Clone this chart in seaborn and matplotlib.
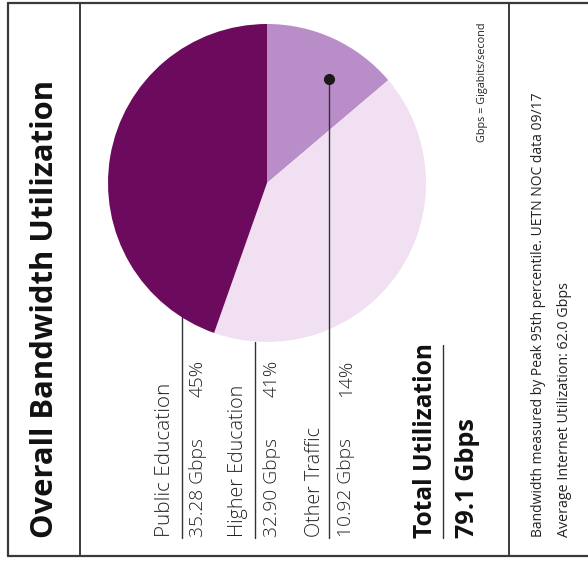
import matplotlib
matplotlib.use("Agg")
import matplotlib.pyplot as plt
import seaborn as sns

# data
categories = ["Public Education", "Higher Education", "Other Traffic"]
gbps = [35.28, 32.90, 10.92]
percent = [45, 41, 14]
total_gbps = 79.1
average_gbps = 62.0

title = "Overall Bandwidth Utilization"
unit_note = "Gbps = Gigabits/second"
source_note = "Bandwidth measured by Peak 95th percentile. UETN NOC data 09/17"

sns.set_theme(style="white")
plt.rcParams["font.family"] = ["Open Sans", "DejaVu Sans"]

# public, higher, other
colors = sns.color_palette(["#6c0b5d", "#f1e0f2", "#b98dc7"])

W, H = 588, 564
fig = plt.figure(figsize=(W / 100, H / 100), dpi=100)
fig.patch.set_facecolor("white")
ax = fig.add_axes([0, 0, 1, 1])

def Y(py):
    # page was scanned rotated, work in pixel rows from the top
    return H - py

renderer = fig.canvas.get_renderer()

def vtext(x, py, s, length=None, size=None, va="bottom", **kw):
    t = ax.text(x, Y(py), s, rotation=90, ha="center", va=va, **kw)
    if size is None:
        size = 12
        for _ in range(3):
            t.set_fontsize(size)
            ext = t.get_window_extent(renderer)
            size = size * length / ext.height
    t.set_fontsize(size)
    return size

# pie, clockwise from the top: other, higher, public
cx, cy, r = 267, 183, 159
ax.pie(gbps[::-1], colors=colors[::-1],
       startangle=90, counterclock=False, center=(cx, Y(cy)), radius=r,
       frame=True, wedgeprops=dict(linewidth=0))

ax.set_xlim(0, W)
ax.set_ylim(0, H)
ax.set_aspect("equal")
ax.axis("off")

# frame
lc = "#3a3a3a"
ax.plot([8, 8], [Y(3), Y(556)], color=lc, lw=1.6)
ax.plot([8, W], [Y(3), Y(3)], color=lc, lw=1.6)
ax.plot([8, W], [Y(556), Y(556)], color=lc, lw=1.6)
for x in [80, 509]:
    ax.plot([x, x], [Y(3), Y(556)], color=lc, lw=1.4)

vtext(45, 538, title, 458, fontweight="bold", color="#111111")

# category columns
label_x = [165, 238, 315]
line_x = [182, 255, 329]
value_x = [198, 272, 346]
label_len = [153, 152, 110]
txt = "#222222"
for i, cat in enumerate(categories):
    vtext(label_x[i], 537, cat, label_len[i], fontweight="light", color=txt)
    fs = vtext(value_x[i], 537, f"{gbps[i]:.2f} Gbps", 99, fontweight="light", color=txt)
    vtext(value_x[i], 397, f"{percent[i]}%", size=fs, fontweight="light", color=txt)
    dx = line_x[i] - cx
    top = cy + (r ** 2 - dx ** 2) ** 0.5
    if i == 2:
        top = 79
    ax.plot([line_x[i], line_x[i]], [Y(top), Y(538)], color="#333333", lw=1.0)

ax.plot([329], [Y(79)], "o", color="#1a1a1a", ms=7)

# totals
vtext(425, 538, "Total Utilization", 195, fontweight="bold", color="#111111")
ax.plot([443, 443], [Y(345), Y(538)], color="#333333", lw=1.0)
vtext(468, 538, f"{total_gbps} Gbps", 120, fontweight="bold", color="#111111")

vtext(482, 23, unit_note, 119, va="top", color=txt)
vtext(538, 537, source_note, 448, color=txt)
vtext(565, 537, f"Average Internet Utilization: {average_gbps:.1f} Gbps", 256, color=txt)

fig.savefig("out.png", dpi=100)
